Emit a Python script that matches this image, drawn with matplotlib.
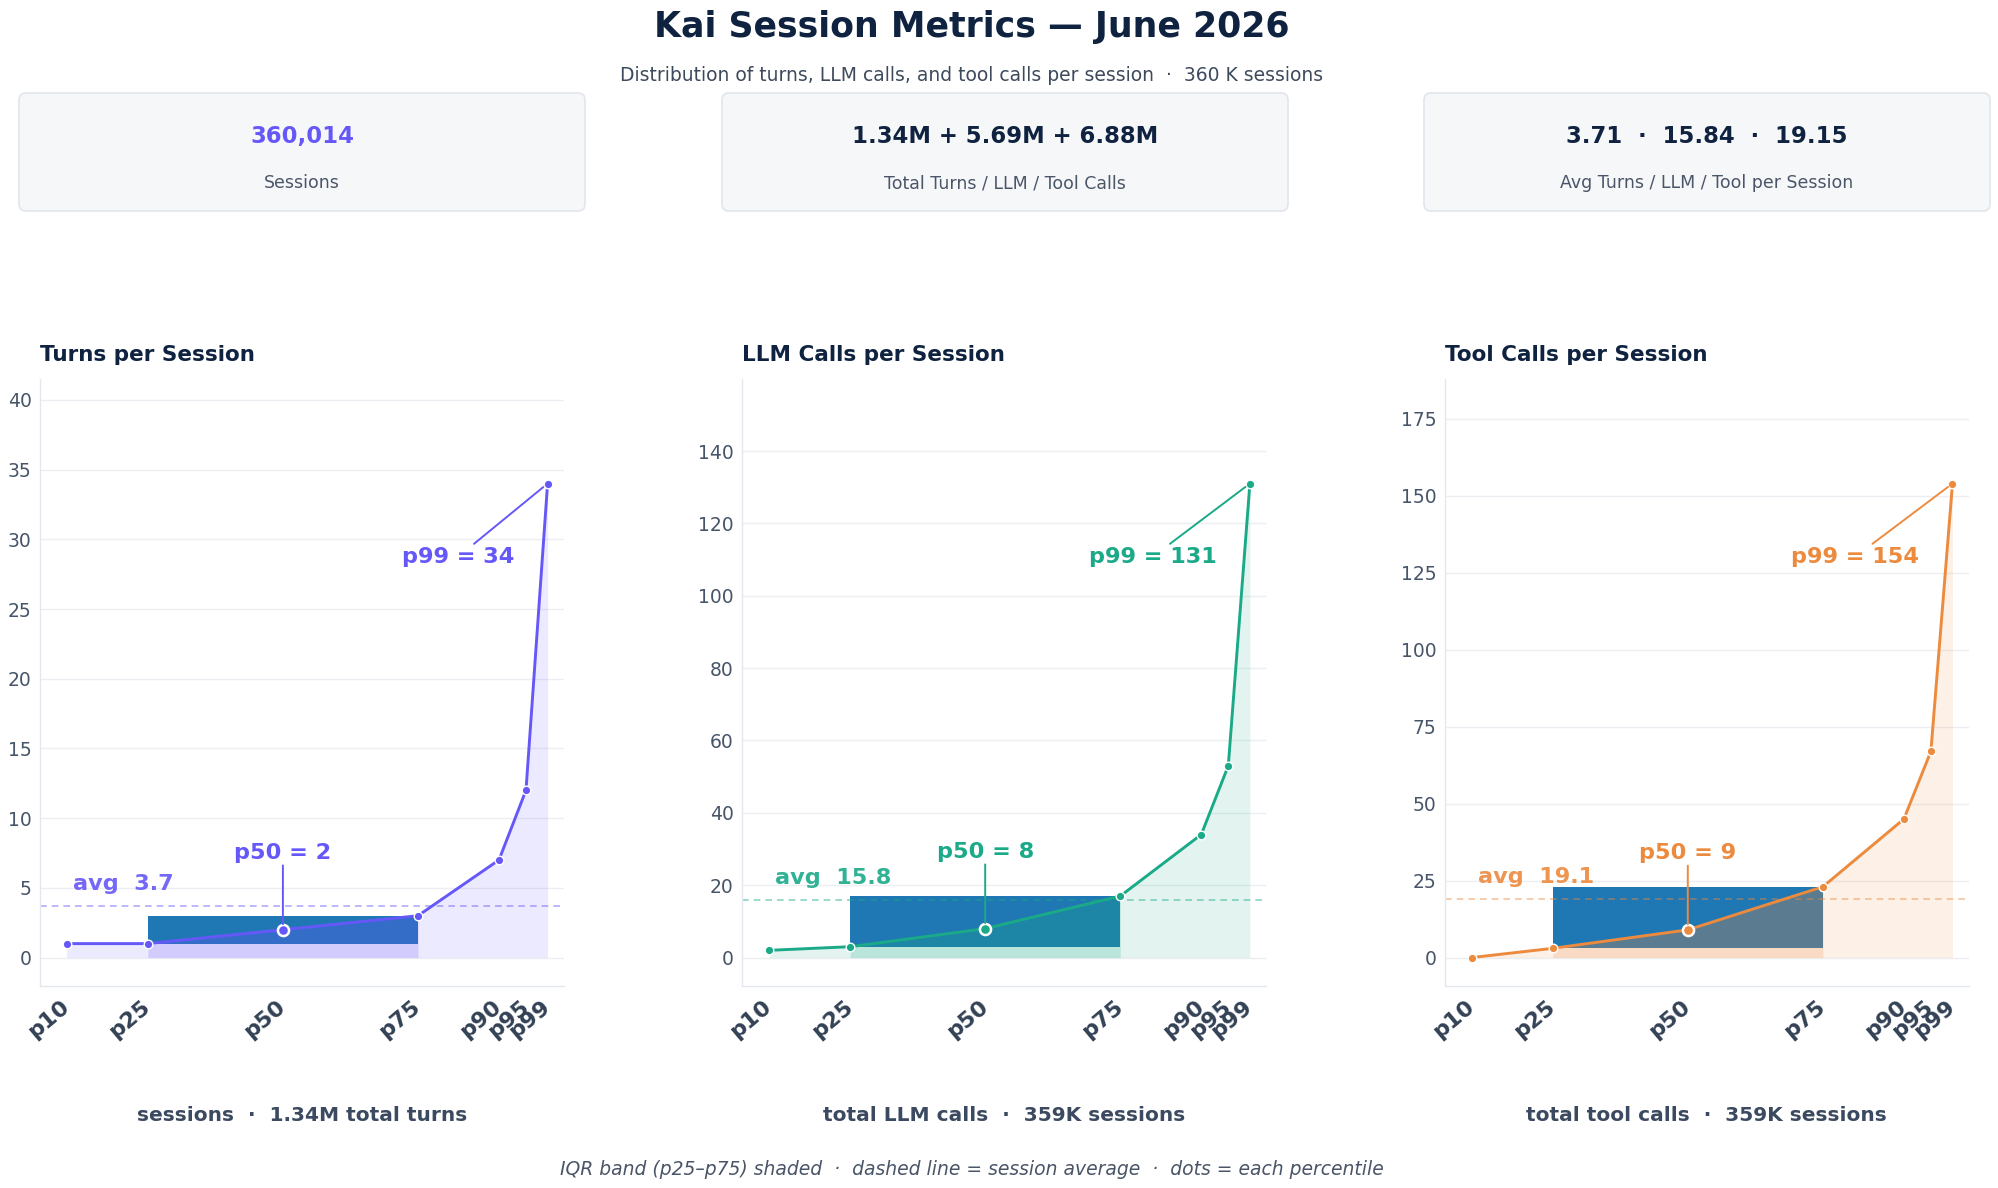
import matplotlib
matplotlib.use("Agg")
import matplotlib.pyplot as plt
from matplotlib.patches import FancyBboxPatch, Rectangle
from matplotlib.ticker import MultipleLocator

# percentiles on the x axis
pct_labels = ['p10', 'p25', 'p50', 'p75', 'p90', 'p95', 'p99']
pct_pos = [10, 25, 50, 75, 90, 95, 99]

turns = [1, 1, 2, 3, 7, 12, 34]
llm_calls = [2, 3, 8, 17, 34, 53, 131]
tool_calls = [0, 3, 9, 23, 45, 67, 154]
averages = [3.71, 15.84, 19.15]

panel_titles = ['Turns per Session', 'LLM Calls per Session', 'Tool Calls per Session']
panel_footers = ['sessions  ·  1.34M total turns',
                 'total LLM calls  ·  359K sessions',
                 'total tool calls  ·  359K sessions']

card_values = ['360,014', '1.34M + 5.69M + 6.88M', '3.71  ·  15.84  ·  19.15']
card_labels = ['Sessions', 'Total Turns / LLM / Tool Calls', 'Avg Turns / LLM / Tool per Session']

title = 'Kai Session Metrics — June 2026'
subtitle = 'Distribution of turns, LLM calls, and tool calls per session  ·  360 K sessions'
footnote = 'IQR band (p25–p75) shaded  ·  dashed line = session average  ·  dots = each percentile'

colors = ['#6658f8', '#1aaa88', '#ec8a3e']
ystep = [5, 20, 25]
NAVY = '#0f2340'
SLATE = '#3b4a60'
IQR_BLUE = '#1f77b4'

W, H = 1999, 1188
fig = plt.figure(figsize=(W / 100, H / 100), dpi=100)

# pixel-space background axes for cards and text
bg = fig.add_axes([0, 0, 1, 1], zorder=0)
bg.set_xlim(0, W)
bg.set_ylim(H, 0)
bg.axis('off')

bg.text(972, 36.7, title, ha='center', va='baseline', fontsize=25,
        fontweight='bold', color=NAVY)
bg.text(972, 81, subtitle, ha='center', va='baseline', fontsize=13.5, color='#3d4a5c')

card_x = [(19, 585), (722, 1288), (1424, 1990)]
for i, (x0, x1) in enumerate(card_x):
    box = FancyBboxPatch((x0, 93), x1 - x0, 118, boxstyle='round,pad=0,rounding_size=7',
                         fc='#f6f7f9', ec='#e2e6ec', lw=1.2)
    bg.add_patch(box)
    cx = (x0 + x1) / 2
    bg.text(cx, 143.3, card_values[i], ha='center', va='baseline', fontsize=16.4,
            fontweight='bold', color=colors[0] if i == 0 else NAVY)
    bg.text(cx, 188.3, card_labels[i], ha='center', va='baseline', fontsize=12.5,
            color='#4a5568')

bg.text(972, 1175, footnote, ha='center', va='baseline', fontsize=13.5,
        style='italic', color='#4a5568')

series = [turns, llm_calls, tool_calls]
ax_left = [39.8, 742.1, 1444.7]
ax_w, ax_top, ax_bot = 524, 379.3, 986

for i, vals in enumerate(series):
    c = colors[i]
    ax = fig.add_axes([ax_left[i] / W, (H - ax_bot) / H, ax_w / W, (ax_bot - ax_top) / H], zorder=1)
    ax.patch.set_alpha(0)
    p25, p50, p75, p99 = vals[1], vals[2], vals[3], vals[6]

    ax.add_patch(Rectangle((pct_pos[1], p25), pct_pos[3] - pct_pos[1], p75 - p25,
                           fc=IQR_BLUE, ec='none', zorder=1))
    ax.fill_between(pct_pos[1:4], vals[1:4], 0, color=c, alpha=0.2, lw=0, zorder=2)
    ax.fill_between(pct_pos, vals, 0, color=c, alpha=0.12, lw=0, zorder=2)
    ax.axhline(averages[i], color=c, alpha=0.5, lw=1.2, ls=(0, (4, 3)), zorder=2)
    ax.plot(pct_pos, vals, color=c, lw=2.1, marker='o', ms=6.2, mfc=c, mec='white',
            mew=1.0, zorder=4)
    ax.plot([pct_pos[2]], [p50], 'o', ms=8, mfc=c, mec='white', mew=1.8, zorder=5)

    ax.annotate(f'p99 = {p99}', xy=(pct_pos[6], p99), xytext=(-33, -73),
                textcoords='offset pixels', ha='right', va='center', fontsize=16.1,
                fontweight='bold', color=c,
                arrowprops=dict(arrowstyle='-', color=c, lw=1.4, shrinkA=0, shrinkB=4),
                zorder=6)
    ax.annotate(f'p50 = {p50}', xy=(pct_pos[2], p50), xytext=(0, 77),
                textcoords='offset pixels', ha='center', va='center', fontsize=16.1,
                fontweight='bold', color=c,
                arrowprops=dict(arrowstyle='-', color=c, lw=1.4, shrinkA=0, shrinkB=4),
                zorder=6)
    ax.annotate(f'avg  {averages[i]:.1f}', xy=(11.1, averages[i]), xytext=(0, 22),
                textcoords='offset pixels', ha='left', va='center', fontsize=16.1,
                fontweight='bold', color=c, alpha=0.9, zorder=6)

    ax.set_xlim(5, 102)
    ax.yaxis.set_major_locator(MultipleLocator(ystep[i]))
    ax.set_ylim(-0.06 * p99, 1.22 * p99)
    ax.set_xticks(pct_pos)
    ax.set_xticklabels(pct_labels, rotation=40, ha='right', va='center',
                       rotation_mode='anchor', fontsize=16, fontweight='bold',
                       color='#334155')
    ax.tick_params(axis='x', length=0, pad=13)
    ax.tick_params(axis='y', length=0, pad=6, labelsize=13.5, labelcolor='#475569')
    ax.yaxis.grid(True, color='#eceef3', lw=1)
    ax.set_axisbelow(True)
    for s in ['top', 'right']:
        ax.spines[s].set_visible(False)
    for s in ['left', 'bottom']:
        ax.spines[s].set_color('#e3e7ee')
        ax.spines[s].set_linewidth(1)

    bg.text(ax_left[i], 360.7, panel_titles[i], ha='left', va='baseline', fontsize=15.5,
            fontweight='bold', color=NAVY)
    bg.text(ax_left[i] + ax_w / 2, 1120.7, panel_footers[i], ha='center', va='baseline',
            fontsize=14.5, fontweight='bold', color=SLATE)

fig.savefig('out.png', dpi=100)
